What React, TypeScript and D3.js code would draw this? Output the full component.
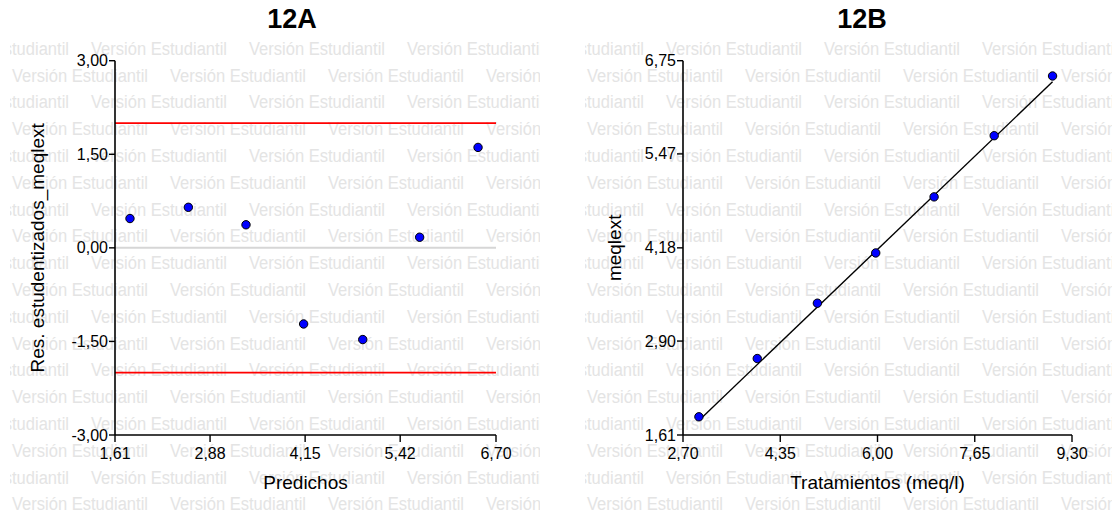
import React from "react";
import * as d3 from "d3";

// Panel 12A: studentized residuals vs predicted values
const predichos = [1.81, 2.59, 3.36, 4.13, 4.92, 5.68, 6.46];
const residuos = [0.47, 0.65, 0.37, -1.22, -1.47, 0.17, 1.61];
const limitesRes = [2, -2];
const ticksPredichos = [1.61, 2.88, 4.15, 5.42, 6.7];
const ticksResiduos = [3, 1.5, 0, -1.5, -3];

// Panel 12B: observed meqlext vs treatment, with fitted line
const tratamientos = [2.97, 3.96, 4.98, 5.97, 6.96, 7.98, 8.97];
const meqlext = [1.86, 2.66, 3.42, 4.11, 4.88, 5.72, 6.54];
const ticksTratamientos = [2.7, 4.35, 6.0, 7.65, 9.3];
const ticksMeqlext = [1.61, 2.9, 4.18, 5.47, 6.75];

const W = 1120;
const H = 512;
const FONT = "'Liberation Sans', Arial, Helvetica, sans-serif";
const fmt = (v: number) => v.toFixed(2).replace(".", ",");

const WM_TEXT = "Versión Estudiantil";
const WM_PERIOD = 158;
const WM_ROW = 26.8;

function Watermark({ id, left, right }: { id: string; left: number; right: number }) {
  const rows = d3.range(18);
  return (
    <g>
      <defs>
        <clipPath id={id}>
          <rect x={left} y={36} width={right - left} height={H - 36} />
        </clipPath>
      </defs>
      <g clipPath={`url(#${id})`} fill="#e4e4e4" fontFamily={FONT} fontSize={17.6}>
        {rows.map((r) => {
          const start = r % 2 === 1 ? left + 2 : left + 2 - WM_PERIOD / 2;
          const cols = d3.range(5);
          const y = 48.5 + r * WM_ROW + 6.3;
          return cols.map((c) => (
            <text
              key={`${r}-${c}`}
              x={start + c * WM_PERIOD}
              y={y}
              textLength={136}
              lengthAdjust="spacingAndGlyphs"
            >
              {WM_TEXT}
            </text>
          ));
        })}
      </g>
    </g>
  );
}

type AxisProps = {
  x: d3.ScaleLinear<number, number>;
  y: d3.ScaleLinear<number, number>;
  xTicks: number[];
  yTicks: number[];
  xLabel: string;
  yLabel: string;
  yLabelX: number;
};

function Axes({ x, y, xTicks, yTicks, xLabel, yLabel, yLabelX }: AxisProps) {
  const [x0, x1] = x.range();
  const [yb, yt] = y.range();
  return (
    <g fontFamily={FONT} fill="#000">
      <line x1={x0} x2={x0} y1={yt} y2={yb} stroke="#000" strokeWidth={1.6} />
      <line x1={x0} x2={x1} y1={yb} y2={yb} stroke="#000" strokeWidth={1.6} />
      {yTicks.map((t) => (
        <g key={`y${t}`}>
          <line x1={x0 - 6} x2={x0} y1={y(t)} y2={y(t)} stroke="#000" strokeWidth={1.4} />
          <text x={x0 - 7} y={y(t) + 5.5} textAnchor="end" fontSize={16}>
            {fmt(t)}
          </text>
        </g>
      ))}
      {xTicks.map((t) => (
        <g key={`x${t}`}>
          <line x1={x(t)} x2={x(t)} y1={yb} y2={yb + 7} stroke="#000" strokeWidth={1.4} />
          <text x={x(t)} y={yb + 24} textAnchor="middle" fontSize={16}>
            {fmt(t)}
          </text>
        </g>
      ))}
      <text x={(x0 + x1) / 2} y={489} textAnchor="middle" fontSize={19}>
        {xLabel}
      </text>
      <text
        transform={`translate(${yLabelX},${(yb + yt) / 2}) rotate(-90)`}
        textAnchor="middle"
        dominantBaseline="central"
        fontSize={19}
      >
        {yLabel}
      </text>
    </g>
  );
}

export default function App() {
  const top = 60.7;
  const bottom = 435;

  const xA = d3.scaleLinear().domain([1.61, 6.7]).range([115, 496]);
  const yA = d3.scaleLinear().domain([-3, 3]).range([bottom, top]);

  const xB = d3.scaleLinear().domain([2.7, 9.3]).range([683, 1072]);
  const yB = d3.scaleLinear().domain([1.61, 6.75]).range([bottom, top]);

  const n = tratamientos.length;
  const fitted = d3
    .line<number>()
    .x((i) => xB(tratamientos[i]))
    .y((i) => yB(predichos[i]))([0, n - 1]);

  return (
    <svg
      width={W}
      height={H}
      viewBox={`0 0 ${W} ${H}`}
      style={{ position: "absolute", left: 0, top: 0, background: "#fff" }}
    >
      <rect width={W} height={H} fill="#fff" />
      <Watermark id="wmA" left={10} right={540} />
      <Watermark id="wmB" left={585} right={1112} />

      {/* 12A */}
      <text x={292} y={28} textAnchor="middle" fontFamily={FONT} fontWeight="bold" fontSize={27}>
        12A
      </text>
      <line x1={xA(1.61)} x2={xA(6.7)} y1={yA(0)} y2={yA(0)} stroke="#d6d6d6" strokeWidth={2} />
      {limitesRes.map((l) => (
        <line key={l} x1={xA(1.61)} x2={xA(6.7)} y1={yA(l)} y2={yA(l)} stroke="#ff0000" strokeWidth={1.6} />
      ))}
      <Axes
        x={xA}
        y={yA}
        xTicks={ticksPredichos}
        yTicks={ticksResiduos}
        xLabel="Predichos"
        yLabel="Res. estudentizados_meqlext"
        yLabelX={37}
      />
      {predichos.map((p, i) => (
        <circle key={i} cx={xA(p)} cy={yA(residuos[i])} r={4.2} fill="#0000ff" stroke="#000" strokeWidth={1} />
      ))}

      {/* 12B */}
      <text x={862} y={28} textAnchor="middle" fontFamily={FONT} fontWeight="bold" fontSize={27}>
        12B
      </text>
      <path d={fitted ?? ""} fill="none" stroke="#000" strokeWidth={1.4} />
      <Axes
        x={xB}
        y={yB}
        xTicks={ticksTratamientos}
        yTicks={ticksMeqlext}
        xLabel="Tratamientos (meq/l)"
        yLabel="meqlext"
        yLabelX={614}
      />
      {tratamientos.map((t, i) => (
        <circle key={i} cx={xB(t)} cy={yB(meqlext[i])} r={4.2} fill="#0000ff" stroke="#000" strokeWidth={1} />
      ))}
    </svg>
  );
}
